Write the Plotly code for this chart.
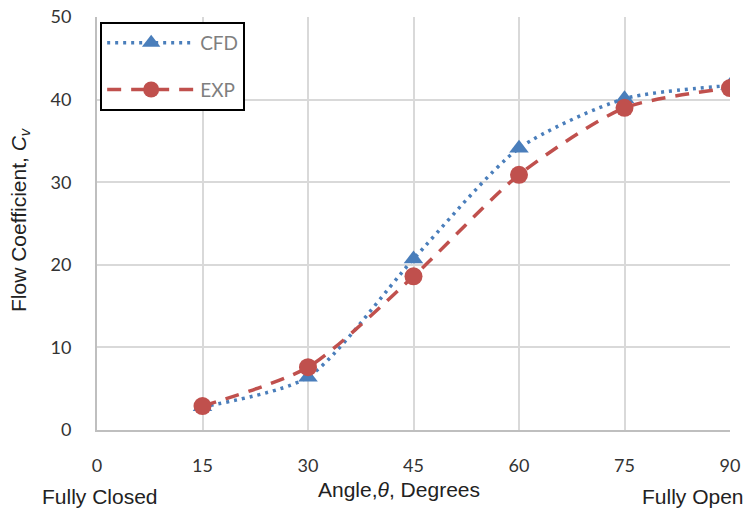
import plotly.graph_objects as go

angles = [15, 30, 45, 60, 75, 90]
cfd = [2.8, 6.4, 20.7, 34.1, 40.1, 41.7]
exp_ = [2.9, 7.6, 18.6, 30.9, 39.0, 41.4]
x_ticks = [0, 15, 30, 45, 60, 75, 90]
y_ticks = [0, 10, 20, 30, 40, 50]

blue = "#4A7EBB"
red = "#C0504D"
font = "Lato"
tfont = "Liberation Sans"

fig = go.Figure()
fig.add_trace(go.Scatter(
    x=angles, y=cfd, name="CFD", mode="lines+markers", legendgroup="a",
    line=dict(color=blue, width=3.5, dash="3px,5px", shape="spline", smoothing=0.7),
    marker=dict(symbol="triangle-up", size=17, color=blue),
))
fig.add_trace(go.Scatter(
    x=angles, y=exp_, name="EXP", mode="lines+markers", legendgroup="b",
    line=dict(color=red, width=3.5, dash="14px,10px", shape="spline", smoothing=0.7),
    marker=dict(symbol="circle", size=18, color=red),
))

fig.update_layout(
    width=751, height=513,
    margin=dict(l=97, r=21, t=17, b=83, autoexpand=False),
    paper_bgcolor="white", plot_bgcolor="white",
    font=dict(family=font, size=18, color="#333333"),
    showlegend=True,
    legend=dict(
        x=0.005, y=0.988, xanchor="left", yanchor="top",
        bgcolor="white", bordercolor="black", borderwidth=2,
        font=dict(family=font, size=19, color="#7F7F7F"),
        itemwidth=88, tracegroupgap=19,
    ),
    xaxis=dict(
        range=[0, 90], tickvals=x_ticks, ticktext=[str(v) for v in x_ticks],
        showgrid=True, gridcolor="#D9D9D9", gridwidth=2,
        showline=True, linecolor="#BFBFBF", linewidth=2,
        ticks="", ticklabelstandoff=18, zeroline=False, automargin=False,
        tickfont=dict(family=font, size=18, color="#333333"),
    ),
    yaxis=dict(
        range=[0, 50], tickvals=y_ticks,
        showgrid=True, gridcolor="#D9D9D9", gridwidth=2,
        showline=True, linecolor="#BFBFBF", linewidth=2,
        ticks="", ticklabelstandoff=20, zeroline=False, automargin=False,
        tickfont=dict(family=font, size=18, color="#333333"),
    ),
)

tf = dict(family=tfont, size=21, color="#222222")
fig.add_annotation(text="Flow Coefficient, <i>C</i><sub><i>v</i></sub>", xref="paper", yref="paper",
                   x=(20 - 97) / 633, y=(430 - 220) / 413, xanchor="center", yanchor="middle",
                   textangle=-90, showarrow=False, font=tf)
fig.add_annotation(text="Angle,<i>θ</i>, Degrees", xref="paper", yref="paper",
                   x=(399 - 97) / 633, y=(430 - 489) / 413, xanchor="center", yanchor="middle",
                   showarrow=False, font=tf)
fig.add_annotation(text="Fully Closed", xref="paper", yref="paper",
                   x=(100 - 97) / 633, y=(430 - 497) / 413, xanchor="center", yanchor="middle",
                   showarrow=False, font=tf)
fig.add_annotation(text="Fully Open", xref="paper", yref="paper",
                   x=(693 - 97) / 633, y=(430 - 497) / 413, xanchor="center", yanchor="middle",
                   showarrow=False, font=tf)

fig.write_html("out.html", config={"displayModeBar": False},
               post_script="document.body.style.margin='0';document.body.style.overflow='hidden';")
